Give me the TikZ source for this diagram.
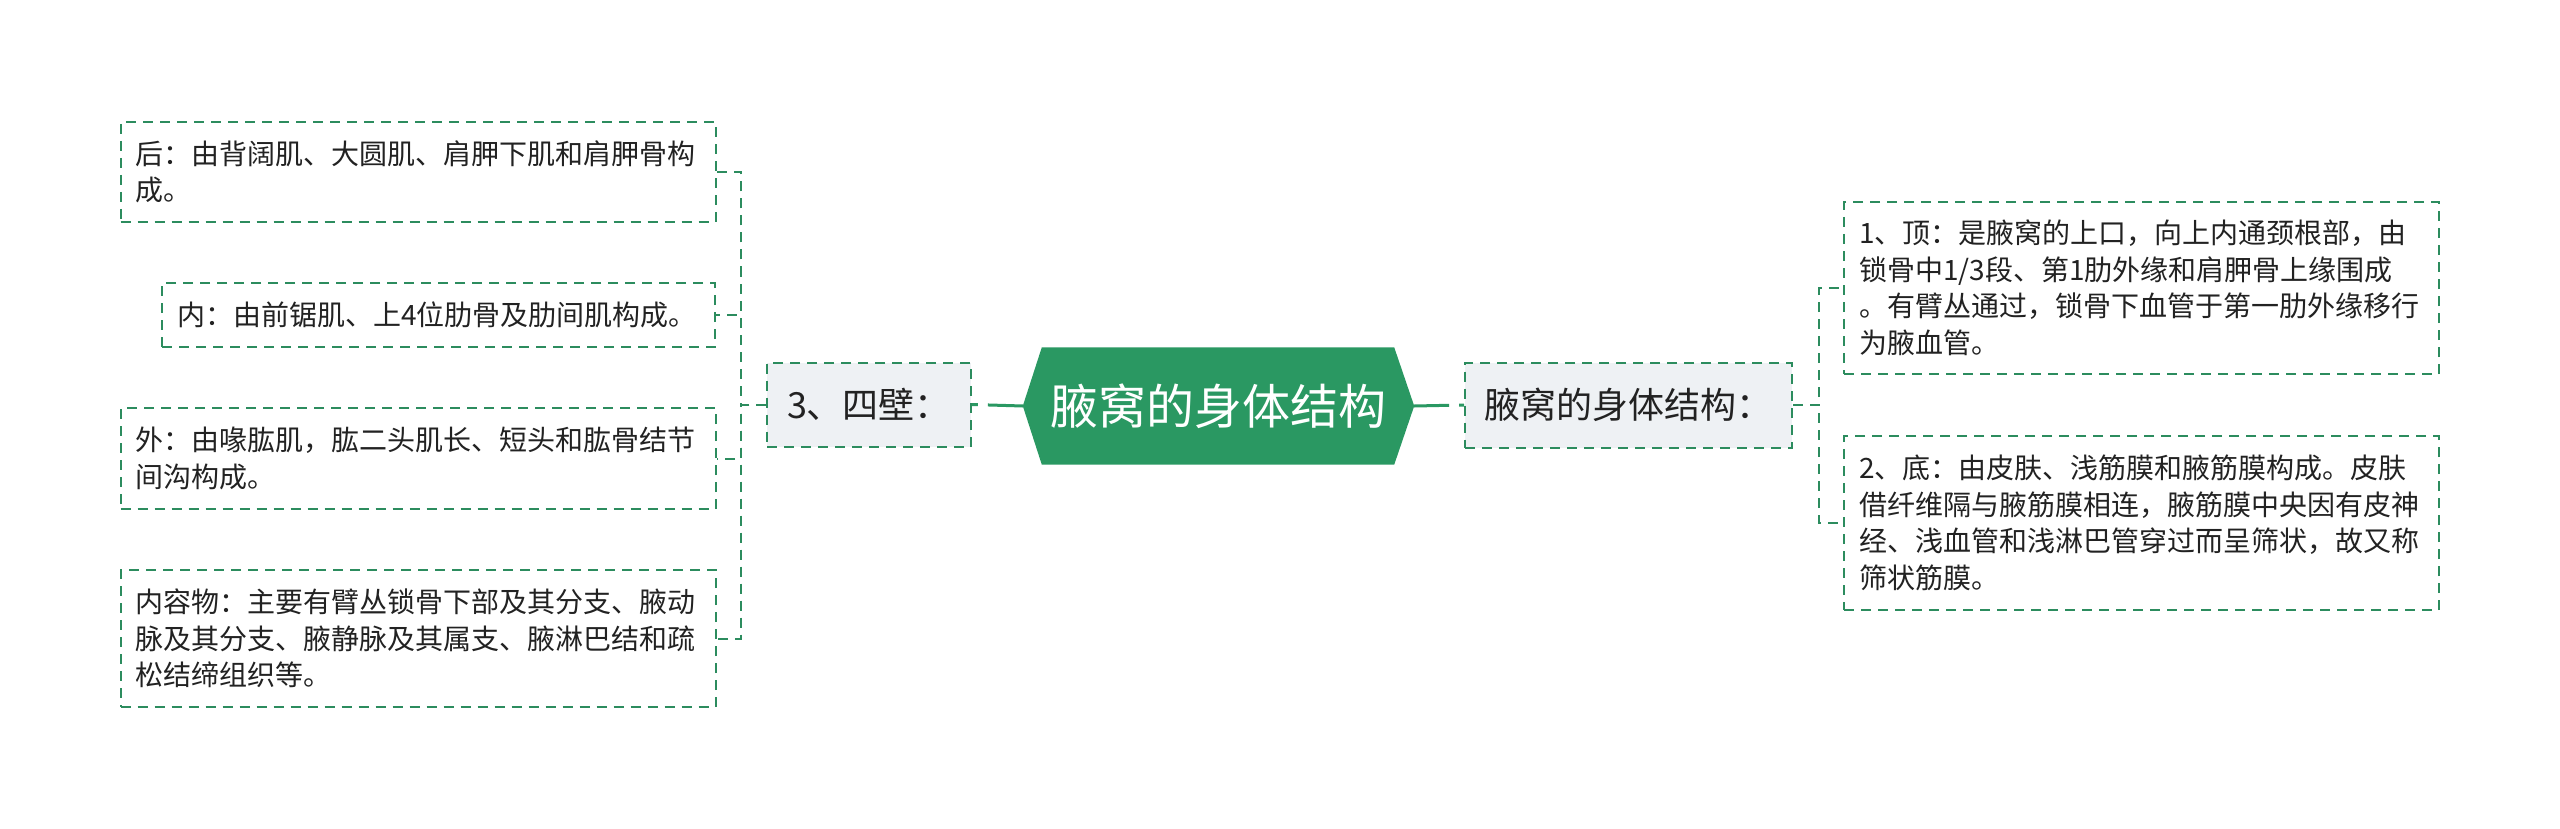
\documentclass[tikz,border=0pt]{standalone}
\usepackage{fontspec}
\setmainfont{Noto Sans CJK SC}
\usetikzlibrary{backgrounds}
\definecolor{hexgreen}{RGB}{42,152,98}
\definecolor{lgreen}{RGB}{44,140,94}
\definecolor{midfill}{RGB}{238,241,244}
\definecolor{txt}{RGB}{34,34,34}
\tikzset{
  leaf/.style={draw=lgreen, line width=2pt, dash pattern=on 10pt off 7pt, fill=white,
    font=\fontsize{28}{36.5}\selectfont, text=txt, align=left, inner xsep=15pt, inner ysep=0pt},
  midbox/.style={draw=lgreen, line width=2pt, dash pattern=on 10pt off 7pt, fill=midfill,
    font=\fontsize{36}{40}\selectfont, text=txt, inner sep=0pt},
  conn/.style={draw=lgreen, line width=2pt, dash pattern=on 10pt off 7pt},
  trunk/.style={draw=hexgreen, line width=3pt, dash pattern=on 35pt off 10pt on 30pt off 10pt},
  rootnode/.style={font=\fontsize{48}{52}\selectfont, text=white, inner sep=0pt,
    minimum width=391pt, minimum height=117pt}
}
\begin{document}
\begin{tikzpicture}[x=1pt,y=-1pt]
\useasboundingbox (0,0) rectangle (2560,829);
% root
\node[rootnode] (root) at (1218.5,406) {腋窝的身体结构};
\begin{scope}[on background layer]
\fill[hexgreen] (root.west) -- ([xshift=19pt]root.north west) -- ([xshift=-20pt]root.north east)
  -- (root.east) -- ([xshift=-20pt]root.south east) -- ([xshift=19pt]root.south west) -- cycle;
\end{scope}
% level 1
\node[midbox, minimum width=204pt, minimum height=84pt] (L1) at (869,404.5) {3、四壁：};
\node[midbox, minimum width=327pt, minimum height=85pt] (R1) at (1628.5,405) {腋窝的身体结构：};
% left leaves
\node[leaf, text width=565pt, minimum height=100pt] (a) at (418,172) {后：由背阔肌、大圆肌、肩胛下肌和肩胛骨构\\成。};
\node[leaf, text width=523pt, minimum height=64pt] (b) at (438.5,315) {内：由前锯肌、上4位肋骨及肋间肌构成。};
\node[leaf, text width=565pt, minimum height=101pt] (c) at (418,458.5) {外：由喙肱肌，肱二头肌长、短头和肱骨结节\\间沟构成。};
\node[leaf, text width=565pt, minimum height=137pt] (d) at (418,638.5) {内容物：主要有臂丛锁骨下部及其分支、腋动\\脉及其分支、腋静脉及其属支、腋淋巴结和疏\\松结缔组织等。};
% right leaves
\node[leaf, text width=565pt, minimum height=172pt] (e) at (2141.5,288) {1、顶：是腋窝的上口，向上内通颈根部，由\\锁骨中1/3段、第1肋外缘和肩胛骨上缘围成\\。有臂丛通过，锁骨下血管于第一肋外缘移行\\为腋血管。};
\node[leaf, text width=565pt, minimum height=174pt] (f) at (2141.5,523) {2、底：由皮肤、浅筋膜和腋筋膜构成。皮肤\\借纤维隔与腋筋膜相连，腋筋膜中央因有皮神\\经、浅血管和浅淋巴管穿过而呈筛状，故又称\\筛状筋膜。};
% trunk connectors
\draw[trunk] (root.west) -- (L1.east);
\draw[trunk] (root.east) -- (R1.west);
% branch connectors
\foreach \n in {a,b,c,d}{
  \draw[conn] (L1.west) -- ++(-25,0) |- (\n.east);
}
\foreach \n in {e,f}{
  \draw[conn] (R1.east) -- ++(26,0) |- (\n.west);
}
\end{tikzpicture}
\end{document}
